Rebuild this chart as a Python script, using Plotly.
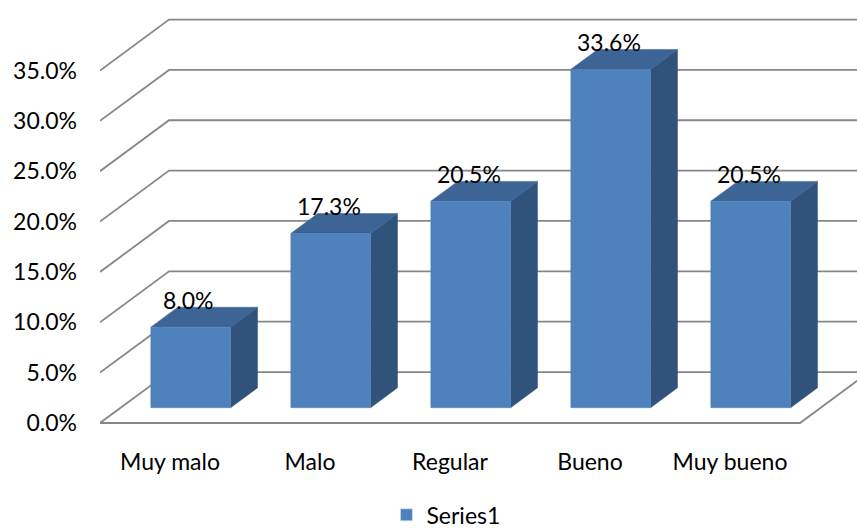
import plotly.graph_objects as go

# Survey results
categories = ["Muy malo", "Malo", "Regular", "Bueno", "Muy bueno"]
values = [8.0, 17.3, 20.5, 33.6, 20.5]
y_ticks = [0, 5, 10, 15, 20, 25, 30, 35]
y_tick_labels = [f"{v:.1f}%" for v in y_ticks]
series_name = "Series1"

# Oblique projection of the 3D box (depth expressed in axis units)
DEPTH_X = 0.493      # horizontal shift of the back wall, in category units
DEPTH_Y = 5.06       # vertical shift of the back wall, in percent units
BAR_FRONT = 0.30     # bar front face position as a fraction of floor depth
BAR_BACK = 0.69      # bar back face position as a fraction of floor depth
BAR_WIDTH = 0.57

FRONT_COLOR = "#4F81BD"
TOP_COLOR = "#3C6595"
SIDE_COLOR = "#31527A"
GRID_COLOR = "#878787"
FONT = "Lato"

fig = go.Figure()

x_left = -0.5
x_right = len(categories) - 0.5


def line(xs, ys):
    fig.add_trace(go.Scatter(x=xs, y=ys, mode="lines",
                             line=dict(color=GRID_COLOR, width=1.8),
                             hoverinfo="skip", showlegend=False))


def poly(xs, ys, color):
    fig.add_trace(go.Scatter(x=xs + [xs[0]], y=ys + [ys[0]], mode="lines",
                             fill="toself", fillcolor=color,
                             line=dict(color=color, width=0.5),
                             hoverinfo="skip", showlegend=False))


# Back wall gridlines with their diagonal run to the front-left edge
for v in y_ticks:
    line([x_left, x_left + DEPTH_X, x_right + DEPTH_X + 1],
         [v, v + DEPTH_Y, v + DEPTH_Y])

# Floor: front edge and right-hand diagonal
line([x_left, x_right, x_right + DEPTH_X], [0, 0, DEPTH_Y])

# 3D bars
bd_x = (BAR_BACK - BAR_FRONT) * DEPTH_X
bd_y = (BAR_BACK - BAR_FRONT) * DEPTH_Y
for i, v in enumerate(values):
    cx = i + BAR_FRONT * DEPTH_X
    base = BAR_FRONT * DEPTH_Y
    top = base + v
    xl, xr = cx - BAR_WIDTH / 2, cx + BAR_WIDTH / 2
    # right side face
    poly([xr, xr, xr + bd_x, xr + bd_x],
         [base, top, top + bd_y, base + bd_y], SIDE_COLOR)
    # top face
    poly([xl, xr, xr + bd_x, xl + bd_x],
         [top, top, top + bd_y, top + bd_y], TOP_COLOR)
    # front face
    poly([xl, xr, xr, xl], [base, base, top, top], FRONT_COLOR)
    fig.add_annotation(x=cx - 0.015, y=top + 2.7, text=f"{v:.1f}%",
                       showarrow=False, xanchor="center", yanchor="middle",
                       font=dict(family=FONT, size=23, color="#000000"))

# Legend entry for the series
fig.add_trace(go.Bar(x=[None], y=[None], name=series_name,
                     marker=dict(color=FRONT_COLOR), showlegend=True))

fig.update_layout(
    width=857, height=530,
    margin=dict(l=100, r=0, t=10, b=90, autoexpand=False),
    paper_bgcolor="white", plot_bgcolor="white",
    font=dict(family=FONT, size=23, color="#000000"),
    showlegend=True,
    legend=dict(orientation="h", x=0.457, xanchor="center",
                y=-0.174, yanchor="middle",
                font=dict(family=FONT, size=23, color="#000000"),
                itemwidth=30),
    xaxis=dict(range=[x_left, x_left + 757 / 140],
               tickmode="array", tickvals=list(range(len(categories))),
               ticktext=categories, showgrid=False, zeroline=False,
               showline=False, ticks="", ticklabelstandoff=6,
               automargin=False, fixedrange=True),
    yaxis=dict(range=[-1.69, 41.01], tickmode="array",
               tickvals=y_ticks, ticktext=y_tick_labels,
               showgrid=False, zeroline=False, showline=False, ticks="",
               ticklabelstandoff=22, automargin=False, fixedrange=True),
)

fig.write_html("out.html")
